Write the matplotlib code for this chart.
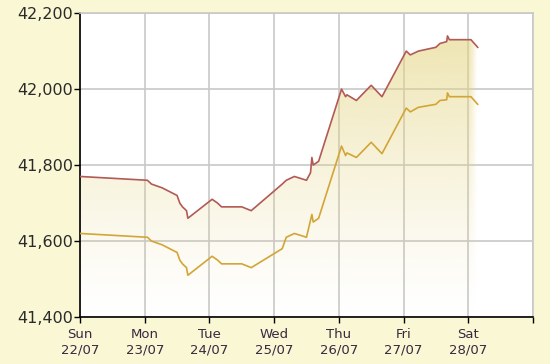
import matplotlib.pyplot as plt
import numpy as np
from matplotlib.patches import Polygon

# hours since Sun 22/07 00:00
hours = [0, 25, 26.5, 30.5, 36, 37, 38, 39.5, 40, 49, 51, 52.5, 60, 63.5,
         75, 76.5, 79.5, 84, 85.5, 86, 86.5, 88.5, 97, 98.5, 99, 102.5,
         108, 112, 121, 122.5, 125.5, 132, 133.5, 136, 136.3, 137, 145, 147.5]
sell = [41770, 41760, 41750, 41740, 41720, 41700, 41690, 41680, 41660, 41710,
        41700, 41690, 41690, 41680, 41750, 41760, 41770, 41760, 41780, 41820,
        41800, 41810, 42000, 41980, 41985, 41970, 42010, 41980, 42100, 42090,
        42100, 42110, 42120, 42125, 42140, 42130, 42130, 42110]
buy = [41620, 41610, 41600, 41590, 41570, 41550, 41540, 41530, 41510, 41560,
       41550, 41540, 41540, 41530, 41580, 41610, 41620, 41610, 41655, 41670,
       41650, 41660, 41850, 41825, 41832, 41820, 41860, 41830, 41950, 41940,
       41952, 41960, 41970, 41972, 41990, 41980, 41980, 41960]

day_names = ["Sun", "Mon", "Tue", "Wed", "Thu", "Fri", "Sat"]
day_dates = ["22/07", "23/07", "24/07", "25/07", "26/07", "27/07", "28/07"]
y_ticks = [41400, 41600, 41800, 42000, 42200]

bg = "#faf7d4"
t = np.array(hours) / 24.0

fig = plt.figure(figsize=(5.5, 3.64), dpi=100, facecolor=bg)
ax = fig.add_axes([0.1455, 0.129, 0.8235, 0.835])
ax.set_facecolor("white")
ymin, ymax = 41400, 42200
ax.set_xlim(0, 7)
ax.set_ylim(ymin, ymax)

# gradient fill under the sell line
ny, nx = 200, 300
gy = np.linspace(1, 0, ny)[:, None]
gx = np.linspace(0, t[-1], nx)[None, :]
alpha = np.clip((gy ** 1.2) * 0.6, 0, 1) * np.clip((t[-1] - gx) / 0.12, 0, 1)
img = np.zeros((ny, nx, 4))
img[..., 0] = 228 / 255
img[..., 1] = 212 / 255
img[..., 2] = 128 / 255
img[..., 3] = alpha
top = max(sell)
im = ax.imshow(img, extent=[0, t[-1], ymin, top], aspect="auto", zorder=1,
               origin="upper")
verts = list(zip(t, sell)) + [(t[-1], ymin), (0, ymin)]
poly = Polygon(verts, closed=True, facecolor="none", edgecolor="none")
ax.add_patch(poly)
im.set_clip_path(poly)

ax.plot(t, sell, color="#b25a55", lw=1.2, zorder=3)
ax.plot(t, buy, color="#d2a536", lw=1.2, zorder=3)

ax.set_xticks(range(8))
ax.set_xticklabels([f"{d}\n{s}" for d, s in zip(day_names, day_dates)] + [""],
                   fontsize=9.5, color="#3a2840", linespacing=1.2)
ax.set_yticks(y_ticks)
ax.set_yticklabels([f"{v:,}" for v in y_ticks], fontsize=11.5, color="#2a2a2a")
ax.tick_params(direction="out", length=4, width=1, color="black")
ax.tick_params(axis="x", pad=4)
ax.tick_params(axis="y", pad=1)

ax.grid(True, color="#c8c8c8", lw=1.2, zorder=0)
ax.set_axisbelow(True)
for s in ["top", "right"]:
    ax.spines[s].set_color("#c8c8c8")
    ax.spines[s].set_linewidth(1.2)
for s in ["left", "bottom"]:
    ax.spines[s].set_color("black")
    ax.spines[s].set_linewidth(1.2)

fig.savefig("out.png", dpi=100, facecolor=bg)
